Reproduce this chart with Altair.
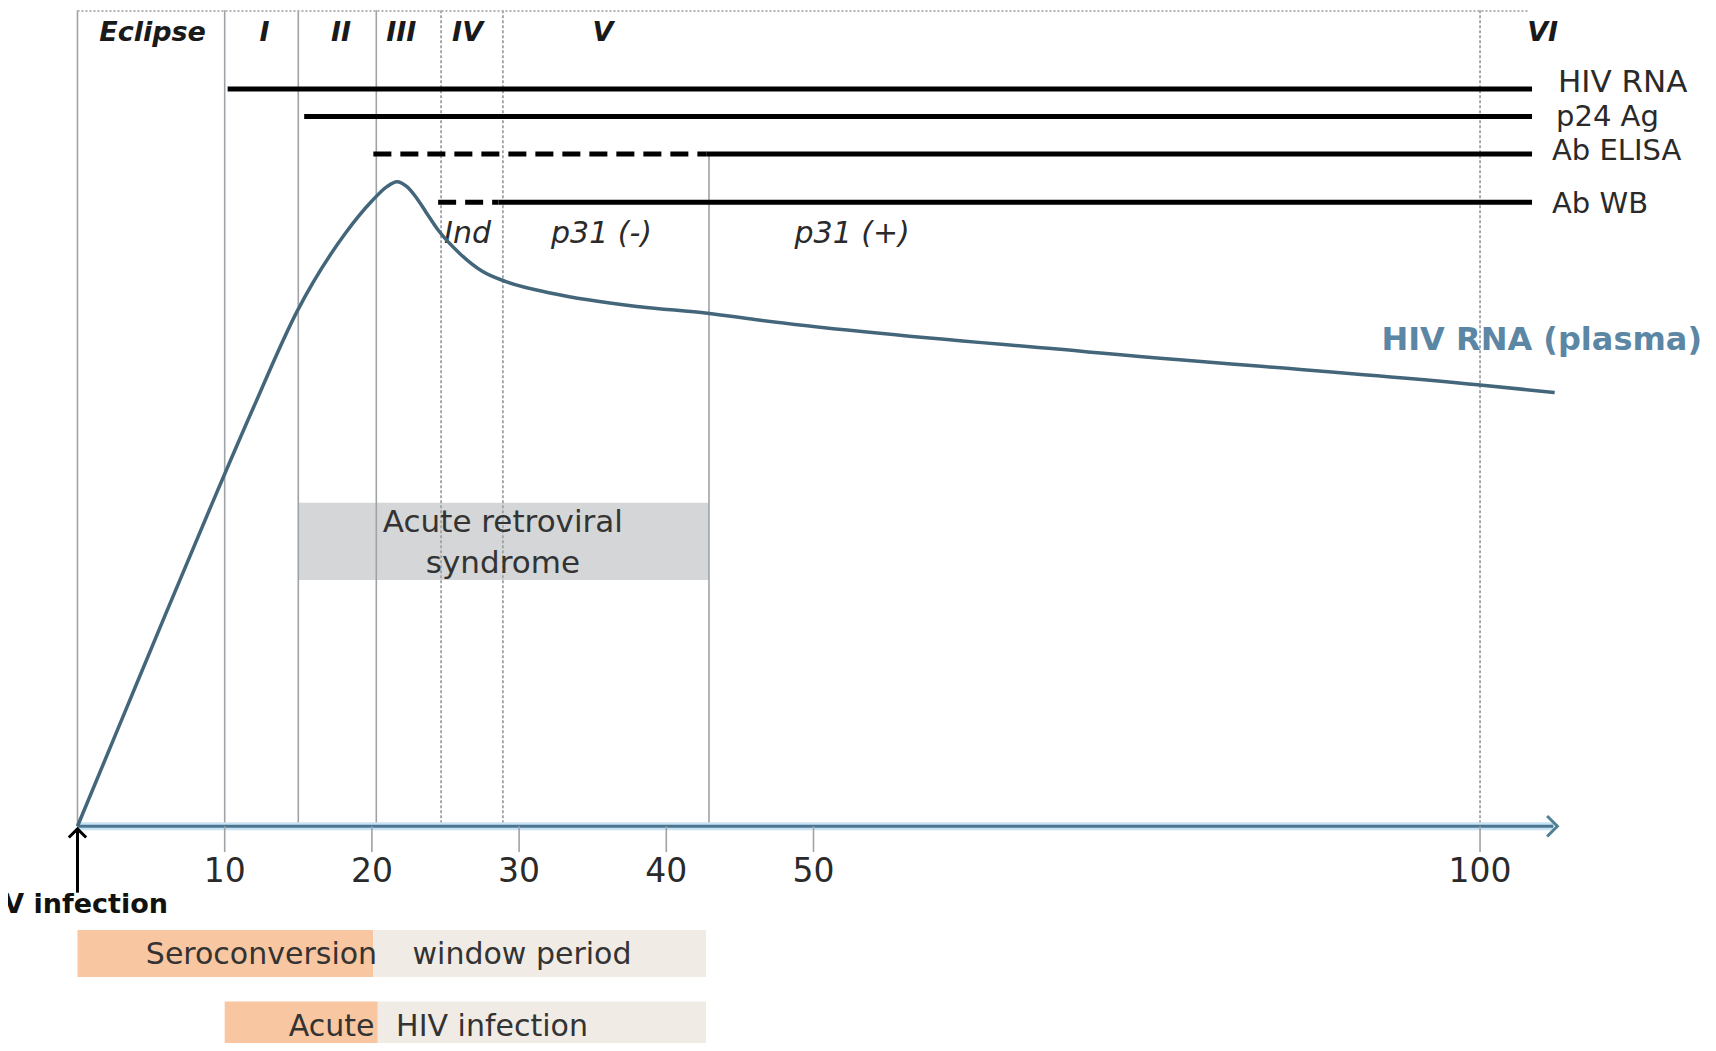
import altair as alt
import pandas as pd

# ---------------- data (x = days after infection, y = relative level) ----------------
phase_names = ["Eclipse", "I", "II", "III", "IV", "V", "VI"]
phase_day = [5.1, 12.7, 17.9, 22.0, 26.5, 35.7, 104.7]
phase_level = 123.1

boundary_day = [0, 10, 15, 20.3, 24.7, 28.9, 42.9, 100]
boundary_top = [126.6, 126.6, 126.6, 126.6, 126.6, 126.6, 104.3, 126.6]
dotted_days = [24.7, 28.9, 100]

assay_names = ["HIV RNA", "p24 Ag", "Ab ELISA", "Ab WB"]
assay_start = [10.2, 15.4, 20.1, 24.5]
assay_confirmed = [10.2, 15.4, 42.75, 28.6]
assay_end = [103.9, 103.9, 103.9, 103.9]
assay_level = [114.4, 110.1, 104.3, 96.8]
assay_label_day = [105.85, 105.7, 105.4, 105.4]
assay_label_level = [115.3, 110.0, 104.8, 96.6]

wb_notes = ["Ind", "p31 (-)", "p31 (+)"]
wb_note_day = [26.5, 35.6, 52.9]
wb_note_level = 91.9

curve_day = [0, 3, 6, 9, 12, 14.9, 18.2, 20.0, 21.0, 21.7, 22.4, 23.0, 23.7, 24.5, 26.0,
             27.5, 29.1, 32.2, 38.2, 42.8, 46.4, 70.6, 99.8, 105.6]
curve_rna = [0, 16.5, 33.0, 49.3, 65.2, 79.8, 92.0, 97.0, 99.2, 100, 99.2, 97.6, 95.2,
             92.5, 88.8, 86.1, 84.5, 82.7, 80.6, 79.6, 78.5, 73.6, 68.5, 67.3]
curve_label = "HIV RNA (plasma)"
curve_label_day = 92.6
curve_label_level = 75.4

tick_days = [10, 20, 30, 40, 50, 100]
tick_label_level = -7.1
axis_end_day = 105.8

syndrome_start, syndrome_end = 15.0, 42.9
syndrome_top, syndrome_bottom = 50.2, 38.2
syndrome_lines = ["Acute retroviral", "syndrome"]
syndrome_line_level = [47.05, 40.75]
syndrome_label_day = 28.9

period_names = ["Seroconversion", "window period", "Acute", "HIV infection"]
period_start = [0, 20.1, 10.0, 20.4]
period_end = [20.1, 42.7, 20.4, 42.7]
period_top = [-16.1, -16.1, -27.2, -27.2]
period_bottom = [-23.4, -23.4, -34.5, -34.5]
period_phase = ["early", "late", "early", "late"]
period_label_day = [12.5, 30.2, 17.26, 28.16]
period_label_level = [-20.0, -20.0, -31.1, -31.1]

infection_label = "HIV infection"
infection_label_day = 6.15
infection_label_level = -12.2

# ---------------- scales ----------------
xs = alt.Scale(domain=[-4.72, 50, 117.1], range=[0, 805.5, 1700], nice=False, zero=False)
ys = alt.Scale(domain=[-33.62, 126.95], nice=False, zero=False)
FONT = "DejaVu Sans"
TXT = "#2a2a2a"


def X(f):
    return alt.X(f"{f}:Q", scale=xs, axis=None)


def Y(f):
    return alt.Y(f"{f}:Q", scale=ys, axis=None)


layers = []

# bottom period bars
periods = pd.DataFrame(dict(name=period_names, start=period_start, end=period_end,
                            top=period_top, bottom=period_bottom, phase=period_phase))
layers.append(alt.Chart(periods).mark_rect().encode(
    x=X("start"), x2="end", y=Y("top"), y2="bottom",
    color=alt.Color("phase:N", scale=alt.Scale(domain=["early", "late"],
                                               range=["#f8c6a1", "#f0ebe5"]), legend=None)))
period_labels = pd.DataFrame(dict(name=period_names, day=period_label_day, level=period_label_level))
layers.append(alt.Chart(period_labels).mark_text(font=FONT, fontSize=30, color="#333333",
                                                 baseline="middle").encode(
    x=X("day"), y=Y("level"), text="name:N"))

# syndrome box
syn = pd.DataFrame(dict(start=[syndrome_start], end=[syndrome_end],
                        top=[syndrome_top], bottom=[syndrome_bottom]))
layers.append(alt.Chart(syn).mark_rect(color="#d4d6d7").encode(
    x=X("start"), x2="end", y=Y("top"), y2="bottom"))

# vertical phase boundaries
bounds = pd.DataFrame(dict(day=boundary_day, top=boundary_top, bottom=[0] * len(boundary_day)))
solid_b = bounds[~bounds.day.isin(dotted_days)]
dotted_b = bounds[bounds.day.isin(dotted_days)]
layers.append(alt.Chart(solid_b).mark_rule(color="#9ea3a8", strokeWidth=1.6).encode(
    x=X("day"), y=Y("top"), y2="bottom"))
layers.append(alt.Chart(dotted_b).mark_rule(color="#9ea3a8", strokeWidth=1.8,
                                            strokeDash=[3, 2]).encode(
    x=X("day"), y=Y("top"), y2="bottom"))

# top dotted border
top_border = pd.DataFrame(dict(start=[0], end=[103.7], level=[126.5]))
layers.append(alt.Chart(top_border).mark_rule(color="#b4b4b4", strokeWidth=2,
                                              strokeDash=[2, 2]).encode(
    x=X("start"), x2="end", y=Y("level")))

# syndrome text
syn_text = pd.DataFrame(dict(t=syndrome_lines, level=syndrome_line_level,
                             day=[syndrome_label_day] * 2))
layers.append(alt.Chart(syn_text).mark_text(font=FONT, fontSize=31, color="#333333",
                                            baseline="middle").encode(
    x=X("day"), y=Y("level"), text="t:N"))

# phase labels
phases = pd.DataFrame(dict(name=phase_names, day=phase_day, level=[phase_level] * len(phase_names)))
layers.append(alt.Chart(phases).mark_text(font=FONT, fontSize=27, fontWeight="bold",
                                          fontStyle="italic", color="#1a1a1a",
                                          baseline="middle").encode(
    x=X("day"), y=Y("level"), text="name:N"))

# assay lines
assays = pd.DataFrame(dict(name=assay_names, start=assay_start, conf=assay_confirmed,
                           end=assay_end, level=assay_level,
                           lday=assay_label_day, llevel=assay_label_level))
dashed = assays[assays.start < assays.conf]
layers.append(alt.Chart(dashed).mark_rule(color="black", strokeWidth=5,
                                          strokeDash=[18, 9]).encode(
    x=X("start"), x2="conf", y=Y("level")))
layers.append(alt.Chart(assays).mark_rule(color="black", strokeWidth=5).encode(
    x=X("conf"), x2="end", y=Y("level")))
layers.append(alt.Chart(assays.iloc[:1]).mark_text(font=FONT, fontSize=31, color=TXT,
                                                   align="left", baseline="middle").encode(
    x=X("lday"), y=Y("llevel"), text="name:N"))
layers.append(alt.Chart(assays.iloc[1:]).mark_text(font=FONT, fontSize=29, color=TXT,
                                                   align="left", baseline="middle").encode(
    x=X("lday"), y=Y("llevel"), text="name:N"))

# WB notes
notes = pd.DataFrame(dict(t=wb_notes, day=wb_note_day, level=[wb_note_level] * 3))
layers.append(alt.Chart(notes).mark_text(font=FONT, fontSize=30, fontStyle="italic",
                                         color=TXT, baseline="middle").encode(
    x=X("day"), y=Y("level"), text="t:N"))

# axis line, ticks, labels
axis_df = pd.DataFrame(dict(start=[0], end=[axis_end_day - 0.3], level=[0]))
layers.append(alt.Chart(axis_df).mark_rule(color="#c9e3f2", strokeWidth=8).encode(
    x=X("start"), x2="end", y=Y("level")))
layers.append(alt.Chart(axis_df).mark_rule(color="#4b7693", strokeWidth=3).encode(
    x=X("start"), x2="end", y=Y("level")))
arrow_df = pd.DataFrame(dict(day=[axis_end_day], level=[0]))
layers.append(alt.Chart(arrow_df).mark_point(shape="M-1,-1L0,0L-1,1", filled=False,
                                             size=420, color="#4f8196", strokeWidth=3,
                                             opacity=1).encode(
    x=X("day"), y=Y("level")))
ticks = pd.DataFrame(dict(day=tick_days, top=[0] * len(tick_days), bottom=[-4.0] * len(tick_days),
                          label=[str(t) for t in tick_days],
                          level=[tick_label_level] * len(tick_days)))
layers.append(alt.Chart(ticks).mark_rule(color="#9ea3a8", strokeWidth=1.6).encode(
    x=X("day"), y=Y("top"), y2="bottom"))
layers.append(alt.Chart(ticks).mark_text(font=FONT, fontSize=33, color=TXT,
                                         baseline="middle").encode(
    x=X("day"), y=Y("level"), text="label:N"))

# curve
curve = pd.DataFrame(dict(day=curve_day, rna=curve_rna))
layers.append(alt.Chart(curve).mark_line(color="#44667a", strokeWidth=3.5,
                                         interpolate="monotone").encode(
    x=X("day"), y=Y("rna")))
clabel = pd.DataFrame(dict(t=[curve_label], day=[curve_label_day], level=[curve_label_level]))
layers.append(alt.Chart(clabel).mark_text(font=FONT, fontSize=32, fontWeight="bold",
                                          color="#5b86a4", align="left",
                                          baseline="middle").encode(
    x=X("day"), y=Y("level"), text="t:N"))

# infection arrow
inf_arrow = pd.DataFrame(dict(day=[0], top=[-0.6], bottom=[-10.3]))
layers.append(alt.Chart(inf_arrow).mark_rule(color="black", strokeWidth=3).encode(
    x=X("day"), y=Y("top"), y2="bottom"))
inf_head = pd.DataFrame(dict(day=[0], level=[-0.4]))
layers.append(alt.Chart(inf_head).mark_point(shape="M-1,1L0,0L1,1", filled=False, size=300,
                                             color="black", strokeWidth=3,
                                             opacity=1).encode(
    x=X("day"), y=Y("level")))
inf_label = pd.DataFrame(dict(t=[infection_label], day=[infection_label_day],
                              level=[infection_label_level]))
layers.append(alt.Chart(inf_label).mark_text(font=FONT, fontSize=27, fontWeight="bold",
                                             color="#111111", align="right",
                                             baseline="middle").encode(
    x=X("day"), y=Y("level"), text="t:N"))

chart = alt.layer(*layers).properties(
    width=1700, height=1035,
    autosize=alt.AutoSizeParams(type="none"),
    padding=0,
    background="white",
).configure_view(stroke=None)

chart.save("out.html", embed_options={"renderer": "svg", "actions": False})
